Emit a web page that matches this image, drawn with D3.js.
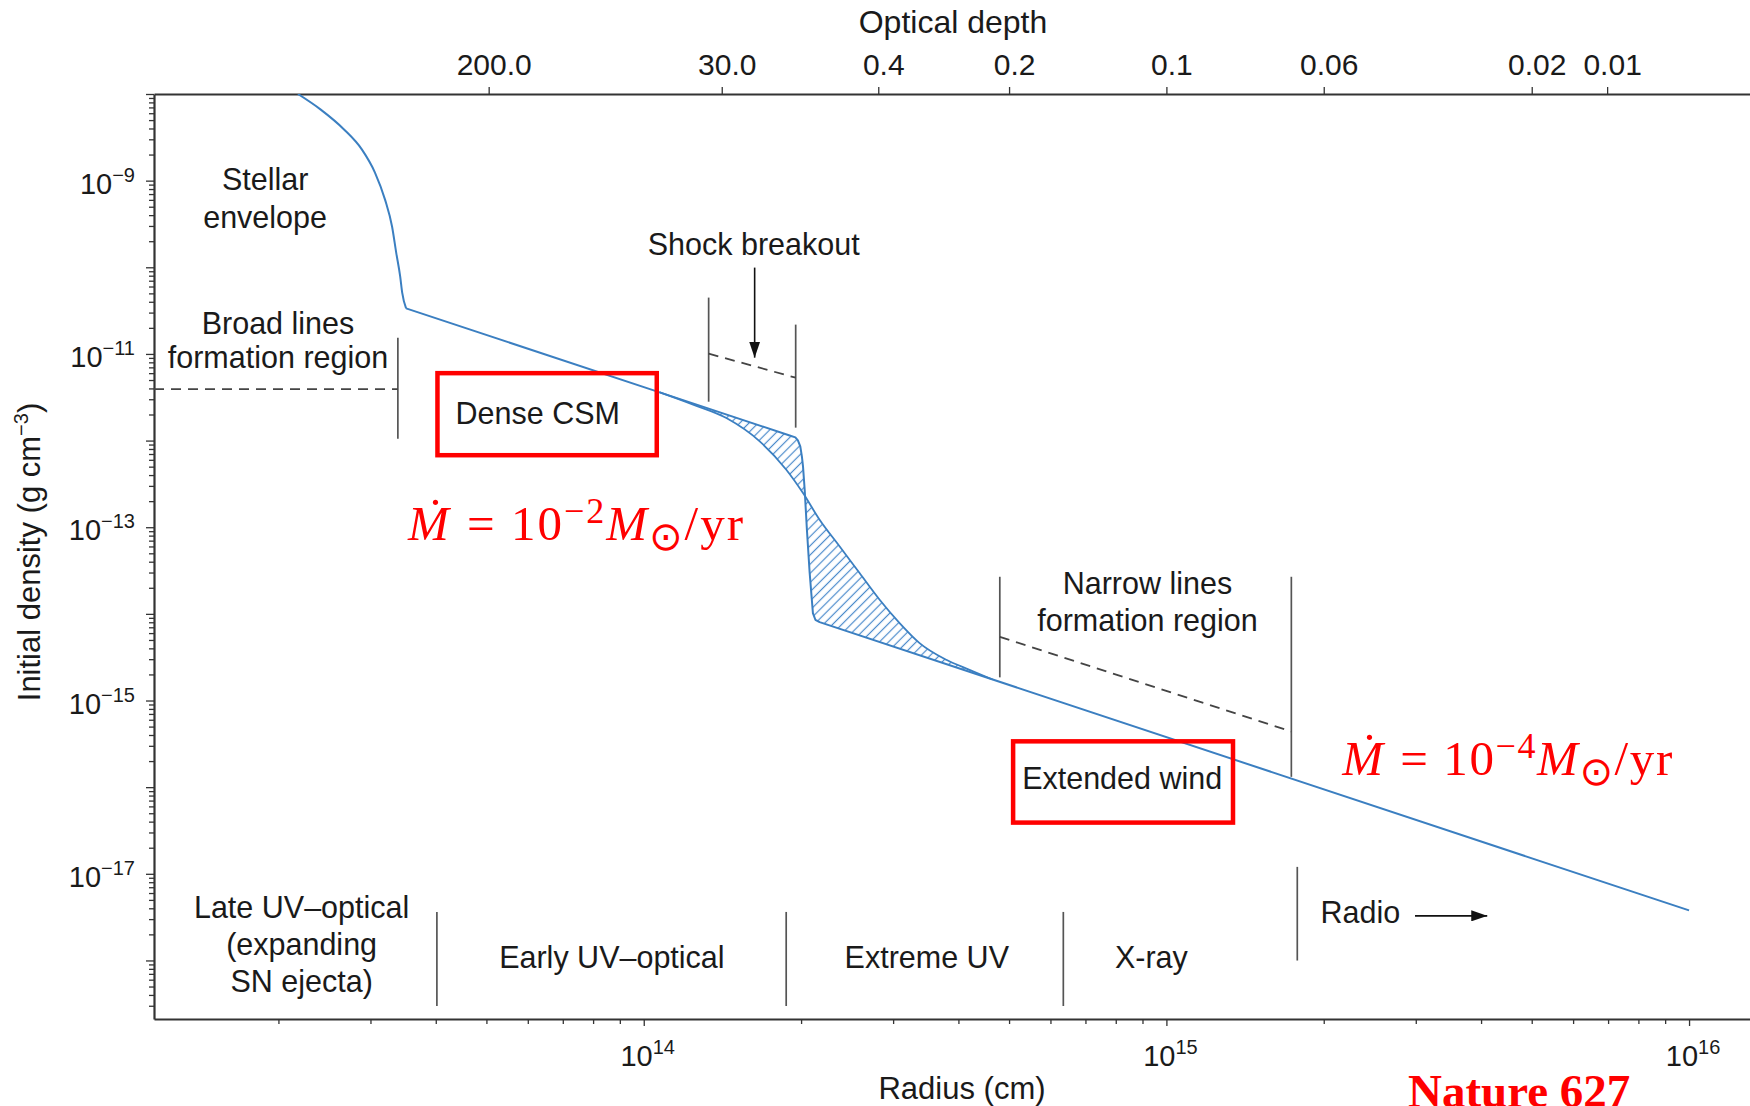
<!DOCTYPE html>
<html lang="en">
<head>
<meta charset="UTF-8">
<title>Initial density profile</title>
<script src="https://cdn.jsdelivr.net/npm/d3@7"></script>
<style>
    body { margin: 0; background: #fff; }
    svg { display: block; font-family: "Liberation Sans", Arial, sans-serif; }
</style>
</head>
<body>
<svg width="1750" height="1106"></svg>
<script>
// radius in cm, density in g cm^-3
var radiusDomain = [1.156e13, 1.308e16];
var densityDomain = [2.11e-19, 1.0e-8];

// stellar envelope
var envelopeProfile = [
    [2.18e13, 1.0e-8], [2.41e13, 6.6e-9], [2.67e13, 3.9e-9], [2.89e13, 2.28e-9],
    [3.06e13, 1.24e-9], [3.20e13, 6.0e-10], [3.30e13, 2.94e-10], [3.36e13, 1.48e-10],
    [3.42e13, 7.8e-11], [3.45e13, 5.1e-11], [3.51e13, 3.36e-11]
];
// dense CSM with sharp drop, then extended wind
var windProfile = [
    [3.51e13, 3.36e-11], [1.073e14, 3.60e-12], [1.902e14, 1.146e-12], [1.95e14, 1.09e-12],
    [1.972e14, 1.005e-12], [1.993e14, 8.57e-13], [2.007e14, 6.57e-13], [2.017e14, 5.04e-13],
    [2.032e14, 2.71e-13], [2.052e14, 9.35e-14], [2.077e14, 2.98e-14], [2.097e14, 1.455e-14],
    [2.107e14, 1.021e-14], [2.130e14, 8.55e-15], [2.170e14, 8.03e-15], [1.0e16, 3.78e-18]
];
// smooth transition profile
var smoothProfile = [
    [1.073e14, 3.60e-12], [1.243e14, 2.60e-12], [1.439e14, 1.82e-12], [1.667e14, 9.8e-13],
    [1.874e14, 4.61e-13], [2.017e14, 2.48e-13], [2.170e14, 1.22e-13], [2.371e14, 6.0e-14],
    [2.588e14, 2.96e-14], [2.827e14, 1.455e-14], [3.087e14, 7.83e-15], [3.371e14, 4.60e-15],
    [3.792e14, 2.95e-15], [4.20e14, 2.26e-15], [4.65e14, 1.748e-15]
];

// top axis: optical depth at given radii
var tauRadii = [5.05e13, 1.41e14, 2.81e14, 5.0e14, 1.0e15, 2.0e15, 5.0e15, 6.97e15];
var tauLabels = ["200.0", "30.0", "0.4", "0.2", "0.1", "0.06", "0.02", "0.01"];
var yLabelExps = [-9, -11, -13, -15, -17];
var xLabelExps = [14, 15, 16];

// annotations: [r, rhoTop, rhoBottom]
var solidMarks = [
    [3.385e13, 1.54e-11, 1.05e-12],
    [1.331e14, 4.47e-11, 2.81e-12],
    [1.953e14, 2.18e-11, 1.41e-12],
    [4.80e14, 2.68e-14, 1.85e-15],
    [1.734e15, 2.68e-14, 1.315e-16],
    [4.02e13, 3.63e-18, 2.98e-19],
    [1.873e14, 3.63e-18, 2.98e-19],
    [6.35e14, 3.63e-18, 2.98e-19],
    [1.78e15, 1.202e-17, 9.98e-19]
];
// [r1, rho1, r2, rho2]
var dashedMarks = [
    [1.156e13, 3.92e-12, 3.385e13, 3.92e-12],
    [1.331e14, 1.008e-11, 1.953e14, 5.32e-12],
    [4.80e14, 5.44e-15, 1.734e15, 4.39e-16]
];
var arrowMarks = [
    [1.630e14, 9.92e-11, 1.630e14, 9.06e-12],
    [2.99e15, 3.27e-18, 4.11e15, 3.27e-18]
];
// [r1, rhoTop, r2, rhoBottom]
var redBoxes = [
    [4.03e13, 6.0e-12, 1.059e14, 6.78e-13],
    [5.09e14, 3.38e-16, 1.341e15, 3.90e-17]
];
var notes = [
    {lines: ["Stellar", "envelope"], r: 1.886e13, rho: 7.87e-10, gap: 38},
    {lines: ["Broad lines", "formation region"], r: 1.996e13, rho: 1.70e-11, gap: 34},
    {lines: ["Shock breakout"], r: 1.623e14, rho: 1.40e-10, gap: 0},
    {lines: ["Dense CSM"], r: 6.27e13, rho: 1.57e-12, gap: 0},
    {lines: ["Narrow lines", "formation region"], r: 9.20e14, rho: 1.68e-14, gap: 36.5},
    {lines: ["Extended wind"], r: 8.23e14, rho: 9.40e-17, gap: 0},
    {lines: ["Late UV\u2013optical", "(expanding", "SN ejecta)"], r: 2.215e13, rho: 3.07e-18, gap: 37},
    {lines: ["Early UV\u2013optical"], r: 8.69e13, rho: 8.19e-19, gap: 0},
    {lines: ["Extreme UV"], r: 3.48e14, rho: 8.19e-19, gap: 0},
    {lines: ["X-ray"], r: 9.36e14, rho: 8.19e-19, gap: 0},
    {lines: ["Radio"], r: 2.35e15, rho: 2.71e-18, gap: 0}
];
var massLoss = [
    {exp: 2, r: 3.54e13, rho: 7.17e-14, len: 335},
    {exp: 4, r: 2.17e15, rho: 1.387e-16, len: 330}
];

var svg = d3.select("svg");
var width = +svg.attr("width");
var height = +svg.attr("height");
var margin = {top: 94, left: 154, bottom: 87};
var ink = "#1a1a1a", blue = "#3b7fc1";

var x = d3.scaleLog().domain(radiusDomain).range([margin.left, width]);
var y = d3.scaleLog().domain(densityDomain).range([height - margin.bottom, margin.top]);

var defs = svg.append("defs");
defs.append("clipPath").attr("id", "plot")
    .append("rect").attr("x", margin.left).attr("y", margin.top)
    .attr("width", width - margin.left).attr("height", height - margin.bottom - margin.top);
defs.append("pattern").attr("id", "hatch")
    .attr("patternUnits", "userSpaceOnUse")
    .attr("width", 6.5).attr("height", 6.5)
    .attr("patternTransform", "rotate(45)")
    .append("line")
    .attr("x1", 3.25).attr("y1", 0).attr("x2", 3.25).attr("y2", 6.5)
    .attr("stroke", "#4a8acb").attr("stroke-width", 1.2);
defs.append("marker").attr("id", "head")
    .attr("viewBox", "0 0 16 11").attr("refX", 16).attr("refY", 5.5)
    .attr("markerWidth", 16).attr("markerHeight", 11)
    .attr("markerUnits", "userSpaceOnUse").attr("orient", "auto")
    .append("path").attr("d", "M0,0L16,5.5L0,11Z").attr("fill", "#111");

// ---- axes ----
function isDecade(v) {
    var l = Math.log10(v);
    return Math.abs(l - Math.round(l)) < 1e-6;
}
var xTicks = [], yTicks = [];
for (var e = 13; e <= 16; e++) for (var k = 1; k <= 9; k++) {
    var v = k * Math.pow(10, e);
    if (v >= radiusDomain[0] && v <= radiusDomain[1]) xTicks.push(v);
}
for (var e2 = -19; e2 <= -8; e2++) for (var k2 = 1; k2 <= 9; k2++) {
    var v2 = k2 * Math.pow(10, e2);
    if (v2 >= densityDomain[0] && v2 <= densityDomain[1]) yTicks.push(v2);
}

var gBottom = svg.append("g")
    .attr("transform", "translate(0," + y.range()[0] + ")")
    .call(d3.axisBottom(x).tickValues(xTicks).tickSize(7).tickSizeOuter(0).tickFormat(""));
gBottom.selectAll(".tick line").attr("y2", function (d) { return isDecade(d) ? 7 : 5; });

var gLeft = svg.append("g")
    .attr("transform", "translate(" + margin.left + ",0)")
    .call(d3.axisLeft(y).tickValues(yTicks).tickSize(8).tickSizeOuter(0).tickFormat(""));
gLeft.selectAll(".tick line").attr("x2", function (d) { return isDecade(d) ? -8 : -5; });

var gTop = svg.append("g")
    .attr("transform", "translate(0," + margin.top + ")")
    .call(d3.axisTop(x).tickValues(tauRadii).tickSize(7).tickPadding(12).tickSizeOuter(0)
        .tickFormat(function (d, i) { return tauLabels[i]; }));
gTop.selectAll("text").attr("font-size", 30).attr("fill", ink).attr("dx", 5)
    .attr("font-family", "'Liberation Sans', Arial, sans-serif");

[gBottom, gLeft, gTop].forEach(function (g) {
    g.select(".domain").attr("stroke", "#333").attr("stroke-width", 2.2);
    g.selectAll(".tick line").attr("stroke", "#333").attr("stroke-width", 1.3);
});

function powerLabel(sel, exp) {
    sel.append("tspan").text("10");
    sel.append("tspan").attr("font-size", 20).attr("dy", -12)
        .text(exp < 0 ? "\u2212" + (-exp) : String(exp));
}
yLabelExps.forEach(function (ex) {
    var t = svg.append("text")
        .attr("x", margin.left - 19).attr("y", y(Math.pow(10, ex)) + 13)
        .attr("text-anchor", "end").attr("font-size", 29).attr("fill", ink);
    powerLabel(t, ex);
});
xLabelExps.forEach(function (ex) {
    var t = svg.append("text")
        .attr("x", x(Math.pow(10, ex)) + 4).attr("y", y.range()[0] + 47)
        .attr("text-anchor", "middle").attr("font-size", 29).attr("fill", ink);
    powerLabel(t, ex);
});

svg.append("text").attr("x", 953).attr("y", 33).attr("text-anchor", "middle")
    .attr("font-size", 32).attr("fill", ink).text("Optical depth");
svg.append("text").attr("x", 962).attr("y", 1099).attr("text-anchor", "middle")
    .attr("font-size", 31).attr("fill", ink).text("Radius (cm)");
var yl = svg.append("text").attr("transform", "translate(40,552) rotate(-90)")
    .attr("text-anchor", "middle").attr("font-size", 31).attr("fill", ink);
yl.append("tspan").text("Initial density (g cm");
yl.append("tspan").attr("font-size", 20).attr("dy", -12).text("\u22123");
yl.append("tspan").attr("dy", 12).text(")");

// ---- density profiles ----
var curved = d3.line()
    .x(function (d) { return x(d[0]); })
    .y(function (d) { return y(d[1]); })
    .curve(d3.curveMonotoneX);
var straight = d3.line()
    .x(function (d) { return x(d[0]); })
    .y(function (d) { return y(d[1]); });

var plot = svg.append("g").attr("clip-path", "url(#plot)");

var hatchTop = windProfile.filter(function (d) {
    return d[0] >= smoothProfile[0][0] && d[0] <= 2.2e14;
}).concat([smoothProfile[smoothProfile.length - 1]]);
var hatchPath = straight(hatchTop) + curved(smoothProfile.slice().reverse()).replace(/^M/, "L") + "Z";
plot.append("path").attr("d", hatchPath).attr("fill", "url(#hatch)").attr("stroke", "none");

plot.append("path").datum(smoothProfile).attr("d", curved)
    .attr("fill", "none").attr("stroke", blue).attr("stroke-width", 1.8);
plot.append("path").datum(envelopeProfile).attr("d", curved)
    .attr("fill", "none").attr("stroke", blue).attr("stroke-width", 2);
plot.append("path").datum(windProfile).attr("d", straight)
    .attr("fill", "none").attr("stroke", blue).attr("stroke-width", 2)
    .attr("stroke-linejoin", "round");

// ---- annotations ----
svg.selectAll(".solid-mark").data(solidMarks).enter().append("line")
    .attr("x1", function (d) { return x(d[0]); }).attr("x2", function (d) { return x(d[0]); })
    .attr("y1", function (d) { return y(d[1]); }).attr("y2", function (d) { return y(d[2]); })
    .attr("stroke", "#555").attr("stroke-width", 1.7);

svg.selectAll(".dash-mark").data(dashedMarks).enter().append("line")
    .attr("x1", function (d) { return x(d[0]); }).attr("y1", function (d) { return y(d[1]); })
    .attr("x2", function (d) { return x(d[2]); }).attr("y2", function (d) { return y(d[3]); })
    .attr("stroke", "#444").attr("stroke-width", 1.8).attr("stroke-dasharray", "10,7");

svg.selectAll(".arrow-mark").data(arrowMarks).enter().append("line")
    .attr("x1", function (d) { return x(d[0]); }).attr("y1", function (d) { return y(d[1]); })
    .attr("x2", function (d) { return x(d[2]); }).attr("y2", function (d) { return y(d[3]); })
    .attr("stroke", "#111").attr("stroke-width", 1.6).attr("marker-end", "url(#head)");

svg.selectAll(".red-box").data(redBoxes).enter().append("rect")
    .attr("x", function (d) { return x(d[0]); }).attr("y", function (d) { return y(d[1]); })
    .attr("width", function (d) { return x(d[2]) - x(d[0]); })
    .attr("height", function (d) { return y(d[3]) - y(d[1]); })
    .attr("fill", "none").attr("stroke", "#ff0000").attr("stroke-width", 4.5);

notes.forEach(function (n) {
    var t = svg.append("text").attr("text-anchor", "middle")
        .attr("font-size", 30.5).attr("fill", ink)
        .attr("x", x(n.r)).attr("y", y(n.rho));
    n.lines.forEach(function (s, i) {
        t.append("tspan").attr("x", x(n.r)).attr("dy", i === 0 ? 0 : n.gap).text(s);
    });
});

massLoss.forEach(function (m) {
    var t = svg.append("text").attr("x", x(m.r)).attr("y", y(m.rho))
        .attr("fill", "#ff0000").attr("font-size", 49)
        .attr("font-family", "'Liberation Serif', 'Times New Roman', serif")
        .attr("textLength", m.len).attr("lengthAdjust", "spacing");
    t.append("tspan").attr("font-style", "italic").text("M");
    t.append("tspan").attr("dx", -23.5).attr("dy", -8).text("\u02D9");
    t.append("tspan").attr("dx", 7.2).attr("dy", 8).text(" = 10");
    t.append("tspan").attr("font-size", 36).attr("dy", -17).text("\u2212" + m.exp);
    t.append("tspan").attr("font-style", "italic").attr("dy", 17).text("M");
    t.append("tspan").attr("font-family", "'DejaVu Sans', sans-serif").attr("font-size", 40)
        .attr("dy", 10).text("\u2299");
    t.append("tspan").attr("dy", -10).text("/yr");
});

svg.append("text").attr("x", 1408).attr("y", 1107)
    .attr("font-family", "'Liberation Serif', 'Times New Roman', serif")
    .attr("font-weight", "bold").attr("font-size", 47).attr("fill", "#ff0000")
    .text("Nature 627");
</script>
</body>
</html>
